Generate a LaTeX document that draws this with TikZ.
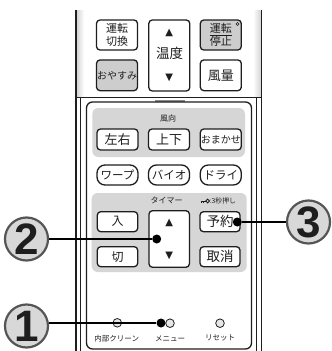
\documentclass[tikz,border=0pt]{standalone}
\usepackage{fontspec}
\setmainfont{Liberation Sans}
\newfontfamily\jp{Noto Sans CJK JP}
\newfontfamily\symf{DejaVu Sans}
\usetikzlibrary{calc}
\definecolor{btngray}{HTML}{CDCDCD}
\definecolor{regiongray}{HTML}{D6D6D6}
\definecolor{calloutfill}{HTML}{D8D8D8}
\definecolor{calloutedge}{HTML}{555555}
\definecolor{ledgray}{HTML}{E6E6E6}
\definecolor{ink}{HTML}{1E1E1E}
\begin{document}
\begin{tikzpicture}[x=1pt,y=-1pt,
  btn/.style={draw=ink, line width=1.3pt, rounded corners=3.5pt, fill=white,
    minimum width=41pt, inner sep=0pt, text=ink, align=center},
  graybtn/.style={btn, fill=btngray},
  pill/.style={btn, rounded corners=8pt, minimum height=20pt},
  jpf/.style={font=\jp\fontsize{#1}{#1}\selectfont},
  lbl/.style={inner sep=0pt, text=ink},
  tri/.style={inner sep=0pt, text=ink, font=\symf\fontsize{10}{10}\selectfont},
  callout/.style={circle, draw=calloutedge, line width=2.2pt, fill=calloutfill,
    minimum size=43pt, inner sep=0pt, text=ink,
    font=\fontsize{44}{44}\selectfont\bfseries},
  led/.style={circle, draw=ink, line width=0.8pt, fill=ledgray, minimum size=8.6pt, inner sep=0pt},
  dotm/.style={circle, fill=black, minimum size=9pt, inner sep=0pt},
  lead/.style={line width=2.4pt, black}]
\useasboundingbox (0,0) rectangle (332,351);
% body
\fill[white] (76,10) rectangle (261.5,351);
\shade[left color=black!16, right color=white] (77,10) rectangle (84,97.5);
\shade[left color=white, right color=black!16] (253,10) rectangle (260.5,97.5);
\draw[line width=1.8pt, ink] (76,10) -- (76,351);
\draw[line width=1.8pt, ink] (261.5,10) -- (261.5,351);
\draw[line width=1.3pt, ink] (76,97.5) -- (261.5,97.5);
\draw[line width=0.9pt, ink] (80.5,97.5) -- (80.5,351);
\draw[line width=0.9pt, ink] (256.5,97.5) -- (256.5,351);
\fill[black!45] (155,99.5) rectangle (185,102.5);
\draw[line width=1.3pt, ink, rounded corners=6pt, fill=white] (86.5,102) rectangle (251.5,349);
% gray regions
\fill[regiongray, rounded corners=6pt] (92.3,108) rectangle (245,157);
\fill[regiongray, rounded corners=6pt] (91.7,193) rectangle (246.7,272);

% top buttons
\node[btn, minimum height=30pt, font=\jp\fontsize{11}{12.5}\selectfont] (unten) at (117,35) {運転\\切換};
\node[btn, minimum height=71pt] (ondo) at (169.3,55.5) {};
\node[tri] (ondoup) at (169.3,32.7) {▲};
\node[lbl, jpf=13.5] (ondotxt) at (169.5,53.5) {温度};
\node[tri] (ondodn) at (169.3,78.3) {▼};
\node[graybtn, minimum height=30pt, font=\jp\fontsize{11}{12.5}\selectfont] (teishi) at (220.8,35) {\underline{運転}\\停止};
\node[circle, draw=ink, line width=0.5pt, minimum size=3.2pt, inner sep=0pt] (deg) at (237.5,24) {};
\node[graybtn, minimum height=30.7pt, jpf=10] (oyasumi) at (117,75.3) {おやすみ};
\node[btn, minimum height=30.7pt, jpf=13] (fuuryou) at (220.8,75.3) {風量};

% wind direction
\node[lbl, jpf=8] (fukou) at (168,118) {風向};
\node[btn, minimum height=21pt, jpf=13] (sayuu) at (117.5,139.5) {左右};
\node[btn, minimum height=21pt, jpf=13] (jouge) at (169,139.5) {上下};
\node[btn, minimum height=21pt, jpf=10] (omakase) at (220.8,139.5) {おまかせ};
\node[pill, jpf=11.5] (warp) at (117.5,175) {ワープ};
\node[pill, jpf=11.5] (bio) at (169,175) {バイオ};
\node[pill, jpf=11.5] (dry) at (220.8,175) {ドライ};

% timer
\node[lbl, jpf=8] (timer) at (166.7,200.7) {タイマー};
\draw[line width=0.9pt, ink] (200.5,201) -- (205.6,201);
\draw[line width=0.7pt, ink] (201.3,201) -- (201.3,203.2) (203.2,201) -- (203.2,203);
\node[circle, draw=ink, line width=0.9pt, minimum size=3.8pt, inner sep=0pt] (keyring) at (207.6,201) {};
\node[lbl, jpf=6.8, anchor=west] (byou) at (209.6,201) {:3秒押し};
\node[btn, minimum width=40.4pt, minimum height=20pt, jpf=12] (iri) at (117.5,221.7) {入};
\node[btn, minimum width=40.4pt, minimum height=56.6pt] (tupdn) at (169.2,239) {};
\node[tri] (tup) at (169.3,223.3) {▲};
\node[tri] (tdn) at (169.3,256) {▼};
\node[btn, minimum width=40pt, minimum height=20pt, jpf=13.5] (yoyaku) at (220,221.7) {予約};
\node[btn, minimum width=40.4pt, minimum height=20pt, jpf=12] (kiri) at (117.5,256.7) {切};
\node[btn, minimum width=40pt, minimum height=20pt, jpf=13.5] (torikeshi) at (220,256.7) {取消};

% bottom LEDs
\node[led] (ledclean) at (117.3,322.8) {};
\node[led] (ledmenu) at (170,323.2) {};
\node[led] (ledreset) at (220,323.2) {};
\node[lbl, jpf=7.5] (tclean) at (116.7,338.3) {内部クリーン};
\node[lbl, jpf=7.5] (tmenu) at (170,338.3) {メニュー};
\node[lbl, jpf=7.5] (treset) at (220,338.3) {リセット};

% callouts
\node[dotm] (dot1) at (161,323) {};
\node[dotm] (dot2) at (156.7,239) {};
\node[dotm] (dot3) at (237.3,222) {};
\node[callout] (c1) at (26.5,326) {1};
\node[callout] (c2) at (26.5,239) {2};
\node[callout] (c3) at (308.5,222) {3};
\draw[lead] (dot1) -- (dot1 -| c1.east);
\draw[lead] (c2) -- (dot2);
\draw[lead] (dot3) -- (c3);
\end{tikzpicture}
\end{document}
